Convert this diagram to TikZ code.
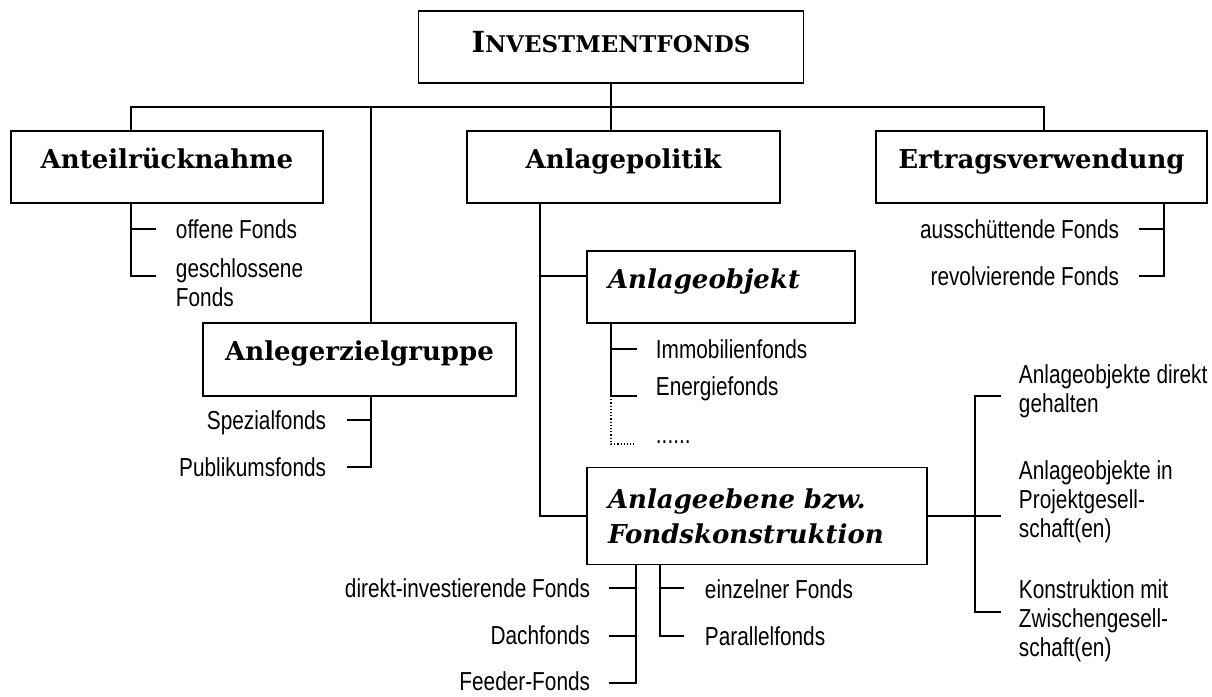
\documentclass[tikz,border=0pt]{standalone}
\usepackage{fontspec}
\setmainfont{DejaVu Serif}
\newfontfamily\lblfont[FakeStretch=0.8]{Liberation Sans}

\tikzset{
  catbox/.style={draw, line width=1.9pt, inner sep=0pt, minimum height=72pt,
    font=\fontsize{26}{35}\selectfont\bfseries},
  head/.style={catbox, text height=18pt, text depth=16pt},
  subhead/.style={head, font=\fontsize{26}{35}\selectfont\bfseries\itshape,
    align=left, inner xsep=21pt},
  lbl/.style={inner sep=0pt, font=\lblfont\fontsize{26}{29}\selectfont},
}

\begin{document}
\begin{tikzpicture}[x=1pt, y=-1pt, line width=1.9pt]
  \useasboundingbox (0,0) rectangle (1212,696);

  % boxes
  \node[head, minimum width=385pt, text depth=8pt] (inv) at (611,47)
    {\fontsize{29}{30}\selectfont I\fontsize{23}{30}\selectfont NVESTMENTFONDS};
  \node[head, minimum width=312pt] (ar) at (167,167) {Anteilrücknahme};
  \node[head, minimum width=313pt] (pol) at (623.5,167) {Anlagepolitik};
  \node[head, minimum width=331pt] (ev) at (1041.5,167) {Ertragsverwendung};
  \node[head, minimum width=313pt, minimum height=73pt] (az) at (359.5,359.5) {Anlegerzielgruppe};
  \node[subhead, minimum width=268pt, text width=226pt] (ao) at (721,287) {Anlageobjekt};
  \node[catbox, font=\fontsize{26}{35}\selectfont\bfseries\itshape, align=left,
    inner xsep=21pt, minimum width=340pt, text width=298pt, minimum height=97pt]
    (ae) at (757,516) {Anlageebene bzw.\\Fondskonstruktion};

  % stems and tick ends
  \coordinate (busL) at (131,107);
  \coordinate (busM) at (371,107);
  \coordinate (busR) at (1044,107);
  \coordinate (evS) at (1164,0);
  \coordinate (polS) at (540,0);
  \coordinate (aoT) at (0,276);
  \coordinate (aoS) at (611,0);
  \coordinate (aeR) at (975,0);
  \coordinate (abS) at (636,0);
  \coordinate (acS) at (660,0);
  \coordinate (ar1) at (156,229);
  \coordinate (ar2) at (156,276);
  \coordinate (ev1) at (1139,229);
  \coordinate (ev2) at (1139,276);
  \coordinate (az1) at (347,420);
  \coordinate (az2) at (347,467);
  \coordinate (ao1) at (637,349);
  \coordinate (ao2) at (637,396);
  \coordinate (ao3) at (634,444);
  \coordinate (ae1) at (1001,396);
  \coordinate (ae2) at (1001,516);
  \coordinate (ae3) at (1001,612);
  \coordinate (ab1) at (609,588);
  \coordinate (ab2) at (609,636);
  \coordinate (ab3) at (609,683);
  \coordinate (ac1) at (684,588);
  \coordinate (ac2) at (684,636);

  % connectors
  \draw (inv.south) -- (inv.south |- pol.north);
  \draw (ar.north -| busL) -- (busL) -- (busR) -- (busR |- ev.north);
  \draw (busM) -- (busM |- az.north);
  \draw (ar.south -| busL) |- (ar2);
  \draw (ar1 -| busL) -- (ar1);
  \draw (ev.south -| evS) |- (ev2);
  \draw (ev1 -| evS) -- (ev1);
  \draw (az.south -| busM) |- (az2);
  \draw (az1 -| busM) -- (az1);
  \draw (pol.south -| polS) -- (polS |- ae.west) -- (ae.west);
  \draw (polS |- aoT) -- (ao.west |- aoT);
  \draw (ao.south -| aoS) |- (ao2);
  \draw (ao1 -| aoS) -- (ao1);
  \draw[dotted, line width=1.2pt] (ao2 -| aoS) |- (ao3);
  \draw (ae.east) -- (ae2);
  \draw (ae1) -| (aeR |- ae3) -- (ae3);
  \draw (ae.south -| abS) |- (ab3);
  \foreach \t in {ab1,ab2} {
    \draw (\t -| abS) -- (\t);
  }
  \draw (ae.south -| acS) |- (ac2);
  \draw (ac1 -| acS) -- (ac1);

  % labels
  \node[lbl, anchor=base west] (l1) at (175,238) {offene Fonds};
  \node[lbl, anchor=north west, align=left] (l2) at (175,258) {geschlossene\\Fonds};
  \node[lbl, anchor=base east] (l3) at (1120,238) {ausschüttende Fonds};
  \node[lbl, anchor=base east] (l4) at (1120,285) {revolvierende Fonds};
  \node[lbl, anchor=base east] (l5) at (327,429) {Spezialfonds};
  \node[lbl, anchor=base east] (l6) at (327,476) {Publikumsfonds};
  \node[lbl, anchor=base west] (l7) at (655,358) {Immobilienfonds};
  \node[lbl, anchor=base west] (l8) at (655,395) {Energiefonds};
  \node[lbl, anchor=base west] (l9) at (655,443) {......};
  \node[lbl, anchor=north west, align=left] (l10) at (1018,364) {Anlageobjekte direkt\\gehalten};
  \node[lbl, anchor=north west, align=left] (l11) at (1018,460) {Anlageobjekte in\\Projektgesell-\\schaft(en)};
  \node[lbl, anchor=north west, align=left] (l12) at (1018,579) {Konstruktion mit\\Zwischengesell-\\schaft(en)};
  \node[lbl, anchor=base east] (l13) at (591,597) {direkt-investierende Fonds};
  \node[lbl, anchor=base east] (l14) at (591,644) {Dachfonds};
  \node[lbl, anchor=base east] (l15) at (591,690) {Feeder-Fonds};
  \node[lbl, anchor=base west] (l16) at (704,598) {einzelner Fonds};
  \node[lbl, anchor=base west] (l17) at (704,645) {Parallelfonds};
\end{tikzpicture}
\end{document}
